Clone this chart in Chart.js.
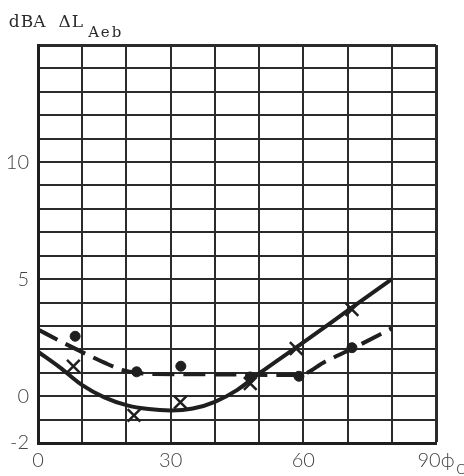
<!DOCTYPE html>
<html>
<head>
<meta charset="utf-8">
<script src="https://cdn.jsdelivr.net/npm/chart.js@4.4.1/dist/chart.umd.min.js"></script>
<style>
  html, body { margin: 0; padding: 0; background: #fff; }
  #grafico { display: block; }
</style>
</head>
<body>
<canvas id="grafico" width="464" height="476"></canvas>
<script>
// curva cheia (medida com x) e curva tracejada (medida com pontos)
const anguloCheia = [0, 5, 10, 15, 20, 25, 30, 35, 40, 45, 50, 60, 70, 80];
const nivelCheia  = [1.9, 1.22, 0.47, -0.05, -0.38, -0.55, -0.61, -0.53, -0.24, 0.26, 0.97, 2.3, 3.65, 5.0];

const anguloTracejada = [0, 5, 10, 15, 19, 22, 26, 40, 59, 65, 72, 80];
const nivelTracejada  = [2.85, 2.35, 1.88, 1.43, 1.12, 1.0, 0.95, 0.93, 0.9, 1.48, 2.12, 2.9];

// valores medidos
const anguloX = [8, 21.7, 32.2, 48, 58.4, 71];
const nivelX  = [1.28, -0.82, -0.26, 0.54, 2.04, 3.7];
const anguloPonto = [8.4, 22.3, 32.3, 48, 59, 71];
const nivelPonto  = [2.56, 1.04, 1.28, 0.82, 0.85, 2.07];

// rótulos dos eixos
const rotulosY = { 10: '10', 5: '5', 0: '0', '-2': '-2' };
const rotulosX = { 0: '0', 30: '30', 60: '60', 90: '90\u03D5' };

const tinta = '#1f1f1f';
const fonteNum = { family: 'Lato, "Open Sans", sans-serif', size: 20, weight: 300 };
const fonteMaquina = '"DejaVu Serif", "Liberation Serif", serif';

const pares = (xs, ys) => xs.map((x, i) => ({ x: x, y: ys[i] }));

// escreve letra a letra com passo fixo, como máquina de escrever
function escreve(ctx, texto, x, y, passo) {
  for (let i = 0; i < texto.length; i++) {
    const w = ctx.measureText(texto[i]).width;
    ctx.fillText(texto[i], x + i * passo + (passo - w) / 2, y);
  }
}

// título e índice do eixo x
const textos = {
  id: 'textos',
  afterDraw(chart) {
    const ctx = chart.ctx;
    ctx.save();
    ctx.fillStyle = '#2a2a2a';
    ctx.textBaseline = 'alphabetic';
    ctx.textAlign = 'left';
    ctx.font = '17px ' + fonteMaquina;
    escreve(ctx, 'dBA \u0394L', 8, 27, 12.6);
    ctx.font = '15px ' + fonteMaquina;
    escreve(ctx, 'Aeb', 88, 37, 11.4);
    ctx.font = '300 20px Lato, "Open Sans", sans-serif';
    ctx.fillStyle = '#444';
    ctx.fillText('o', 456, 474);
    ctx.restore();
  }
};

new Chart(document.getElementById('grafico').getContext('2d'), {
  type: 'scatter',
  data: {
    datasets: [
      {
        type: 'line',
        data: pares(anguloCheia, nivelCheia),
        borderColor: tinta,
        borderWidth: 4,
        pointRadius: 0,
        cubicInterpolationMode: 'monotone',
        fill: false
      },
      {
        type: 'line',
        data: pares(anguloTracejada, nivelTracejada),
        borderColor: tinta,
        borderWidth: 4,
        borderDash: [22, 9],
        pointRadius: 0,
        cubicInterpolationMode: 'monotone',
        fill: false
      },
      {
        data: pares(anguloX, nivelX),
        pointStyle: 'crossRot',
        pointRadius: 9,
        borderColor: tinta,
        borderWidth: 2.5
      },
      {
        data: pares(anguloPonto, nivelPonto),
        pointStyle: 'circle',
        pointRadius: 5,
        backgroundColor: tinta,
        borderColor: tinta,
        borderWidth: 1
      }
    ]
  },
  options: {
    responsive: false,
    animation: false,
    layout: { padding: { top: 45, right: 28, left: 0, bottom: 0 } },
    plugins: { legend: { display: false }, tooltip: { enabled: false } },
    scales: {
      x: {
        type: 'linear',
        min: 0,
        max: 90,
        afterFit: s => { s.height = 33; },
        grid: {
          color: '#2b2b2b',
          lineWidth: c => (c.tick && c.tick.value === 90) ? 3 : 2,
          drawTicks: false
        },
        border: { color: tinta, width: 3 },
        ticks: {
          stepSize: 10,
          autoSkip: false,
          maxRotation: 0,
          padding: 6,
          color: '#444',
          font: fonteNum,
          callback: v => rotulosX[v] ?? ''
        }
      },
      y: {
        min: -2,
        max: 15,
        afterFit: s => { s.width = 38; },
        grid: {
          color: '#2b2b2b',
          lineWidth: c => (c.tick && c.tick.value === 15) ? 3 : 2,
          drawTicks: false
        },
        border: { color: tinta, width: 3 },
        ticks: {
          stepSize: 1,
          autoSkip: false,
          padding: 9,
          color: '#444',
          font: fonteNum,
          callback: v => rotulosY[v] ?? ''
        }
      }
    }
  },
  plugins: [textos]
});
</script>
</body>
</html>
